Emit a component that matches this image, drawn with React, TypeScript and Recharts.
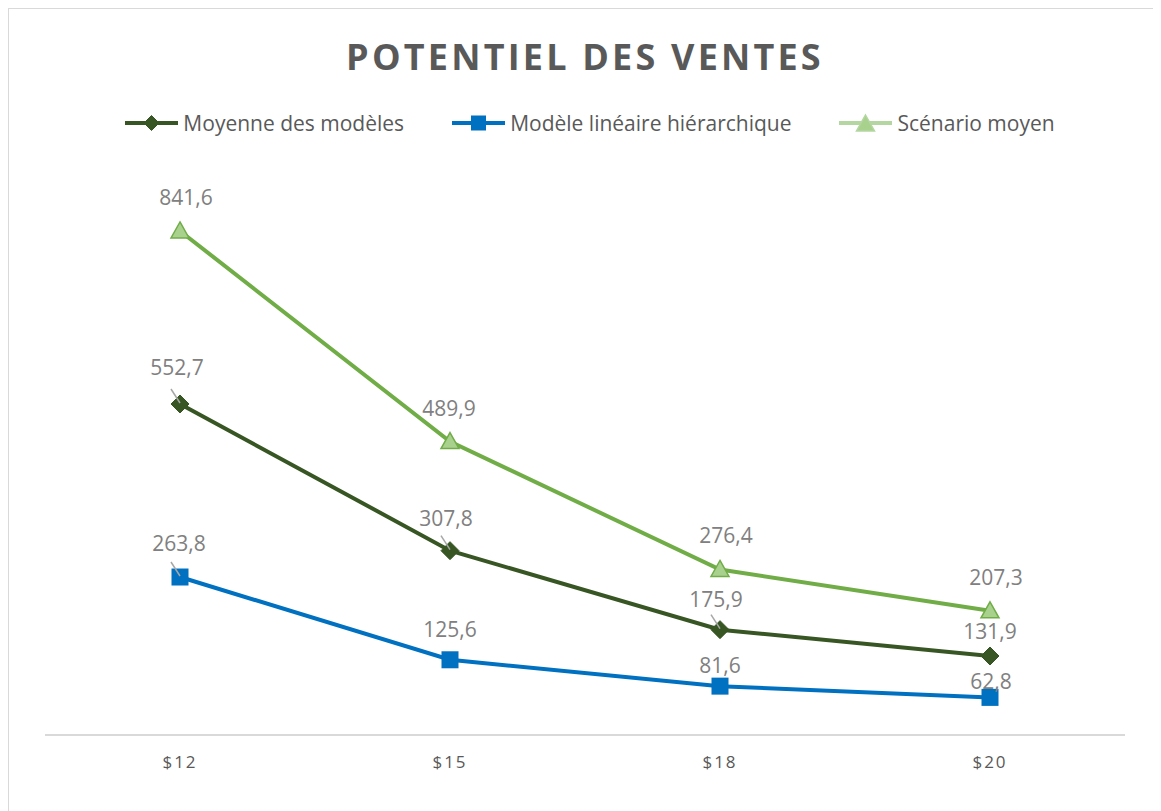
import { LineChart, Line, XAxis, YAxis, LabelList } from "recharts";

const prices = ["$12", "$15", "$18", "$20"];
const moyenneModeles = [552.7, 307.8, 175.9, 131.9];
const modeleLineaire = [263.8, 125.6, 81.6, 62.8];
const scenarioMoyen = [841.6, 489.9, 276.4, 207.3];

const data = prices.map((p, i) => ({
  price: p,
  moy: moyenneModeles[i],
  lin: modeleLineaire[i],
  scen: scenarioMoyen[i],
}));

// label placement (offset from point, label centre) + leader line flag
const labelPos: Record<string, { dx: number; dy: number; leader?: boolean }[]> = {
  scen: [{ dx: 6, dy: -33 }, { dx: -1, dy: -33 }, { dx: 6, dy: -34 }, { dx: 6, dy: -33 }],
  moy: [
    { dx: -3, dy: -36, leader: true },
    { dx: -4, dy: -32, leader: true },
    { dx: -4, dy: -30, leader: true },
    { dx: 0, dy: -24 },
  ],
  lin: [{ dx: -1, dy: -33, leader: true }, { dx: 0, dy: -30 }, { dx: 0, dy: -20 }, { dx: 1, dy: -16 }],
};

const DARK = "#375623";
const BLUE = "#0070C0";
const GREEN = "#70AD47";
const PALE = "#A9D18E";
const FONT = "'Open Sans', sans-serif";

const fmt = (v: number) => v.toFixed(1).replace(".", ",");

const Diamond = ({ cx, cy, r = 9 }: any) => (
  <polygon points={`${cx},${cy - r} ${cx + r},${cy} ${cx},${cy + r} ${cx - r},${cy}`} fill={DARK} stroke={DARK} strokeWidth={1} />
);
const Square = ({ cx, cy, s = 8.5 }: any) => (
  <rect x={cx - s} y={cy - s} width={s * 2} height={s * 2} fill={BLUE} />
);
const Triangle = ({ cx, cy, stroke = GREEN }: any) => (
  <polygon points={`${cx},${cy - 9} ${cx + 9},${cy + 7} ${cx - 9},${cy + 7}`} fill={PALE} stroke={stroke} strokeWidth={1.5} />
);

const makeLabel = (key: string) => (props: any) => {
  const { x, y, value, index } = props;
  const pos = labelPos[key][index];
  return (
    <g>
      {pos.leader && <line x1={x - 9} y1={y - 15} x2={x} y2={y - 1} stroke="#A6A6A6" strokeWidth={1.5} />}
      <text x={x + pos.dx} y={y + pos.dy} dy="0.35em" textAnchor="middle" fontFamily={FONT} fontSize={21} fill="#808080">
        {fmt(value)}
      </text>
    </g>
  );
};

const PriceTick = ({ x, y, payload }: any) => (
  <text x={x} y={y + 27} dy="0.35em" textAnchor="middle" fontFamily={FONT} fontSize={17} letterSpacing={2} fill="#595959">
    {payload.value}
  </text>
);

const legendItems = [
  { name: "Moyenne des modèles", color: DARK, marker: <Diamond cx={26.5} cy={10} r={7.5} /> },
  { name: "Modèle linéaire hiérarchique", color: BLUE, marker: <Square cx={26.5} cy={10} s={7.5} /> },
  { name: "Scénario moyen", color: "#B4D6A1", marker: <Triangle cx={26.5} cy={11} stroke="#B4D6A1" /> },
];

export default function App() {
  return (
    <div
      style={{
        position: "relative",
        width: 1160,
        height: 803,
        borderTop: "1px solid #d9d9d9",
        borderLeft: "1px solid #d9d9d9",
        boxSizing: "border-box",
        background: "#fff",
        fontFamily: FONT,
      }}
    >
      <style>{"body{overflow:hidden}"}</style>
      <div
        style={{
          position: "absolute",
          top: 23,
          left: 0,
          width: 1152,
          textAlign: "center",
          fontSize: 36,
          fontWeight: 700,
          letterSpacing: 3.2,
          color: "#595959",
        }}
      >
        POTENTIEL DES VENTES
      </div>
      <div
        style={{
          position: "absolute",
          top: 100,
          left: 0,
          width: 1162,
          display: "flex",
          justifyContent: "center",
          gap: 48,
          fontSize: 21,
          color: "#595959",
        }}
      >
        {legendItems.map((it) => (
          <div key={it.name} style={{ display: "flex", alignItems: "center", gap: 5 }}>
            <svg width={53} height={20}>
              <line x1={0} y1={10} x2={53} y2={10} stroke={it.color} strokeWidth={4} />
              {it.marker}
            </svg>
            <span>{it.name}</span>
          </div>
        ))}
      </div>
      <LineChart width={1152} height={802} data={data} margin={{ top: 187, right: 36, left: 36, bottom: 36 }}>
        <XAxis
          dataKey="price"
          scale="band"
          height={40}
          tickLine={false}
          tickSize={0}
          tickMargin={0}
          axisLine={{ stroke: "#d9d9d9", strokeWidth: 2 }}
          tick={<PriceTick />}
        />
        <YAxis hide domain={[0, 900]} />
        <Line
          dataKey="scen"
          stroke={GREEN}
          strokeWidth={4}
          isAnimationActive={false}
          dot={(p: any) => <Triangle key={p.index} cx={p.cx} cy={p.cy} />}
        >
          <LabelList dataKey="scen" content={makeLabel("scen")} />
        </Line>
        <Line
          dataKey="moy"
          stroke={DARK}
          strokeWidth={4}
          isAnimationActive={false}
          dot={(p: any) => <Diamond key={p.index} cx={p.cx} cy={p.cy} />}
        >
          <LabelList dataKey="moy" content={makeLabel("moy")} />
        </Line>
        <Line
          dataKey="lin"
          stroke={BLUE}
          strokeWidth={4}
          isAnimationActive={false}
          dot={(p: any) => <Square key={p.index} cx={p.cx} cy={p.cy} />}
        >
          <LabelList dataKey="lin" content={makeLabel("lin")} />
        </Line>
      </LineChart>
    </div>
  );
}
